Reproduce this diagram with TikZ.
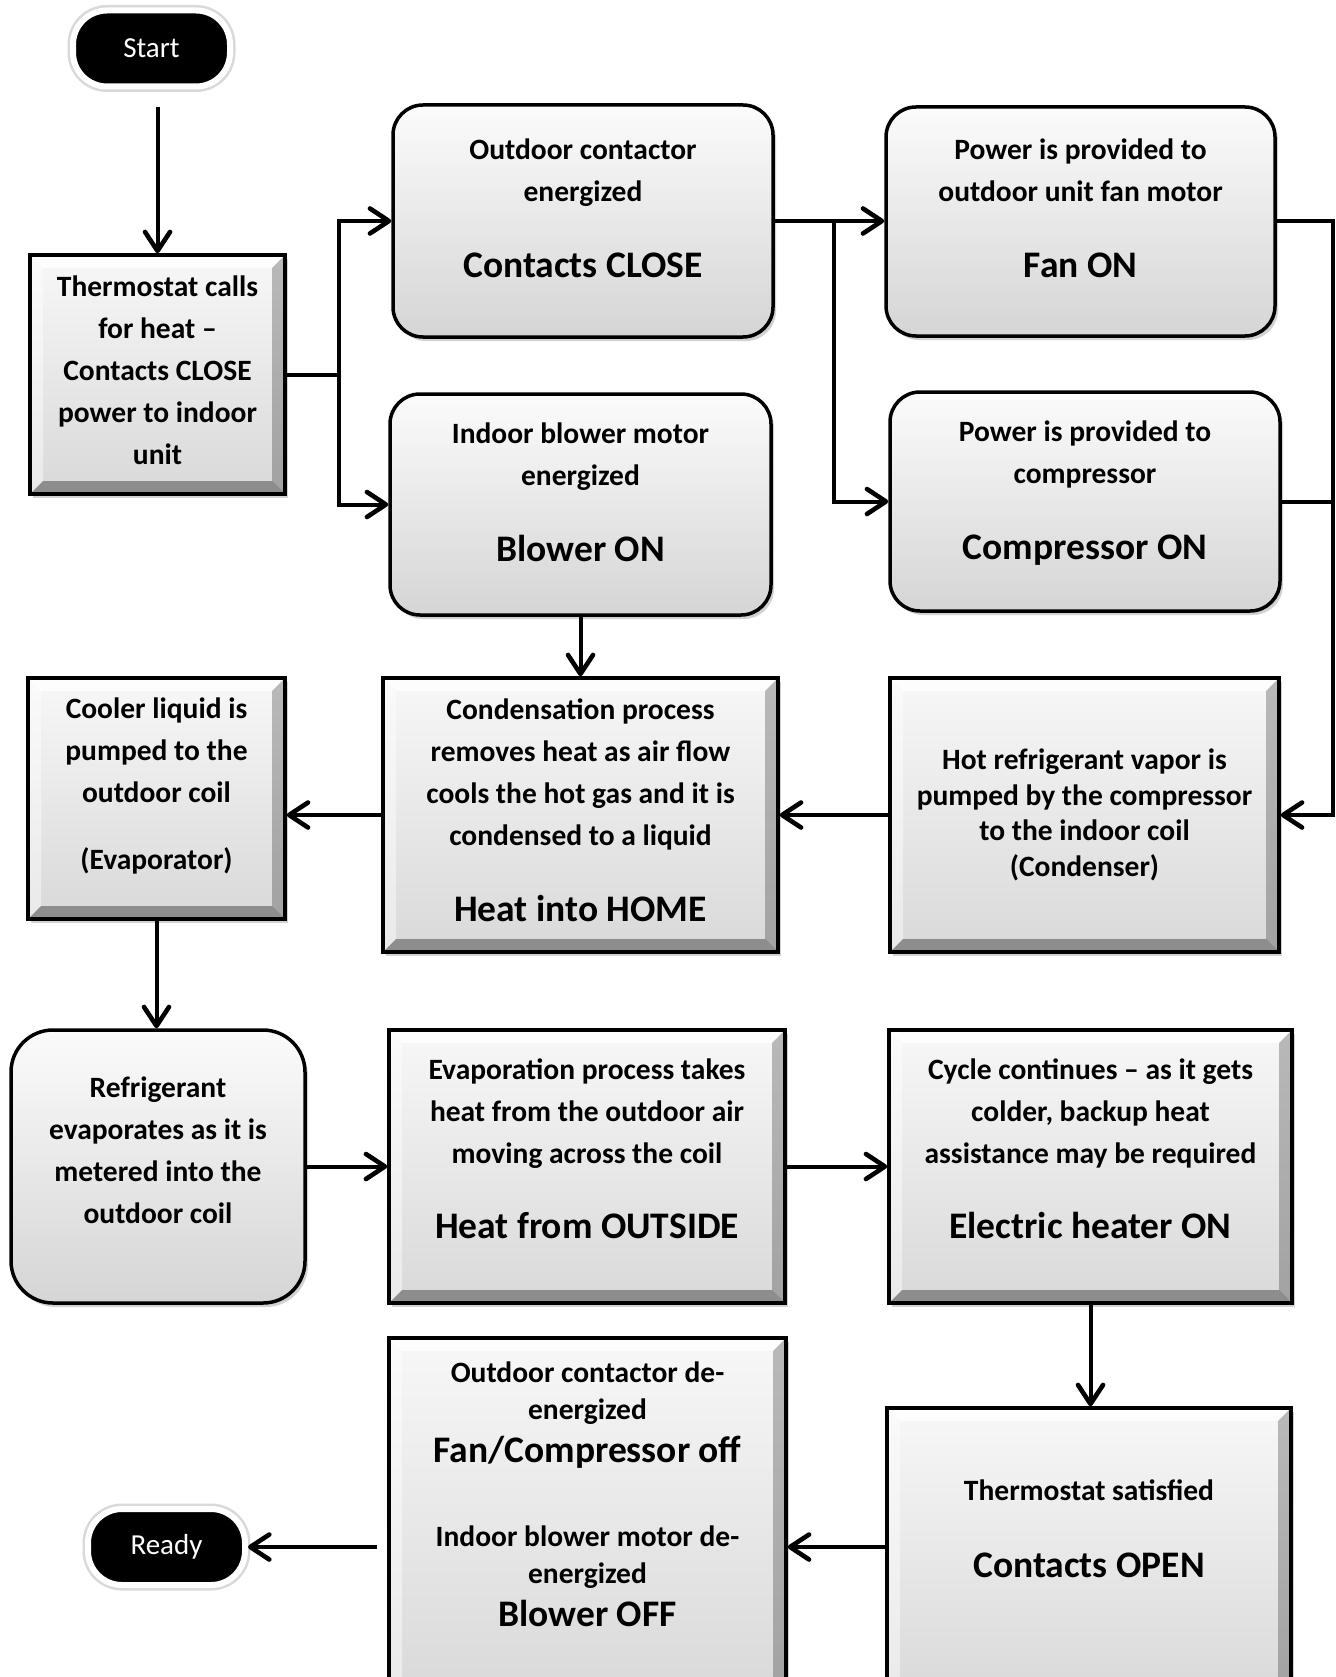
\documentclass[tikz,border=0pt]{standalone}
\usepackage{fontspec}
\setmainfont{Carlito}
\usetikzlibrary{arrows.meta,shadows}

\newcommand\bigtext[1]{{\fontsize{37.5}{42}\selectfont #1}}

\tikzset{
  >={Straight Barb[length=19pt,width=25pt,round,line width=4.6pt]},
  arrow/.style={->, line width=4pt},
  link/.style={line width=4pt},
  bevel/.style={path picture={
    \path (path picture bounding box.north west) coordinate (bnw)
          (path picture bounding box.north east) coordinate (bne)
          (path picture bounding box.south west) coordinate (bsw)
          (path picture bounding box.south east) coordinate (bse);
    \fill[white,opacity=.8] (bnw) -- (bne) -- ([shift={(-13pt,-13pt)}]bne) -- ([shift={(13pt,-13pt)}]bnw) -- cycle;
    \fill[white,opacity=.45] (bnw) -- (bsw) -- ([shift={(13pt,13pt)}]bsw) -- ([shift={(13pt,-13pt)}]bnw) -- cycle;
    \fill[black,opacity=.25] (bne) -- (bse) -- ([shift={(-13pt,13pt)}]bse) -- ([shift={(-13pt,-13pt)}]bne) -- cycle;
    \fill[black,opacity=.35] (bsw) -- (bse) -- ([shift={(-13pt,13pt)}]bse) -- ([shift={(13pt,13pt)}]bsw) -- cycle;
  }},
  flat/.style={draw, line width=3.5pt, top color=gray!6, bottom color=gray!30,
    align=center, font=\bfseries\fontsize{29.5}{42}\selectfont, bevel,
    drop shadow={shadow xshift=3pt, shadow yshift=-4pt, opacity=.35}},
  soft/.style={draw, line width=3.5pt, rounded corners=30pt, top color=gray!3, bottom color=gray!33,
    align=center, font=\bfseries\fontsize{29.5}{42}\selectfont,
    drop shadow={shadow xshift=3pt, shadow yshift=-4pt, opacity=.35}},
  term/.style={fill=black, text=white, rounded corners=34pt, minimum width=157pt, minimum height=76pt,
    font=\fontsize{29}{35}\selectfont, preaction={draw=gray!30, line width=11pt},
    draw=white, line width=6pt}
}

\begin{document}
\begin{tikzpicture}[x=1pt,y=-1pt]
  \useasboundingbox (0,0) rectangle (1335,1677);
  \clip (0,0) rectangle (1335,1677);
  \fill[white] (0,0) rectangle (1335,1677);

  % start / end
  \node[term] (start) at (151.5,48.5) {Start};
  \node[term] (ready) at (166.5,1547) {Ready};

  % first column
  \node[flat, minimum width=255pt, minimum height=239pt, text depth=8pt] (thermo) at (157.5,374.5)
    {Thermostat calls\\for heat –\\Contacts CLOSE\\power to indoor\\unit};
  \node[flat, minimum width=257pt, minimum height=241pt, text depth=30pt] (cooler) at (156.5,798.5)
    {Cooler liquid is\\pumped to the\\outdoor coil\\[25pt](Evaporator)};
  \node[soft, rounded corners=42pt, minimum width=294pt, minimum height=273pt, text depth=32pt] (refr) at (158,1166.5)
    {Refrigerant\\evaporates as it is\\metered into the\\outdoor coil};

  % second column
  \node[soft, minimum width=380pt, minimum height=232pt, text depth=26pt] (outdoor) at (583,221)
    {Outdoor contactor\\energized\\[34pt]\bigtext{Contacts CLOSE}};
  \node[soft, minimum width=381pt, minimum height=221pt, text depth=24pt] (blower) at (580.5,504.5)
    {Indoor blower motor\\energized\\[34pt]\bigtext{Blower ON}};
  \node[flat, minimum width=395pt, minimum height=274pt, text depth=10pt] (cond) at (580.5,815)
    {Condensation process\\removes heat as air flow\\cools the hot gas and it is\\condensed to a liquid\\[34pt]\bigtext{Heat into HOME}};
  \node[flat, minimum width=396pt, minimum height=273pt, text depth=35pt] (evap) at (587,1166.5)
    {Evaporation process takes\\heat from the outdoor air\\moving across the coil\\[33pt]\bigtext{Heat from OUTSIDE}};
  \node[flat, minimum width=397pt, minimum height=362pt, text depth=50pt,
    font=\bfseries\fontsize{29.5}{37}\selectfont] (deen) at (587.5,1519)
    {Outdoor contactor de-\\energized\\[6pt]\bigtext{Fan/Compressor off}\\[47pt]Indoor blower motor de-\\energized\\[6pt]\bigtext{Blower OFF}};

  % third column
  \node[soft, minimum width=389pt, minimum height=229pt, text depth=27pt] (fan) at (1080.5,221.5)
    {Power is provided to\\outdoor unit fan motor\\[34pt]\bigtext{Fan ON}};
  \node[soft, minimum width=390pt, minimum height=219pt, text depth=22pt] (comp) at (1085,501.5)
    {Power is provided to\\compressor\\[34pt]\bigtext{Compressor ON}};
  \node[flat, minimum width=389pt, minimum height=274pt,
    font=\bfseries\fontsize{29.5}{35.7}\selectfont] (hot) at (1084.5,815)
    {Hot refrigerant vapor is\\pumped by the compressor\\to the indoor coil\\(Condenser)};
  \node[flat, minimum width=403pt, minimum height=273pt, text depth=35pt] (cycle) at (1090.5,1166.5)
    {Cycle continues – as it gets\\colder, backup heat\\assistance may be required\\[33pt]\bigtext{Electric heater ON}};
  \node[flat, minimum width=404pt, minimum height=292pt, text depth=50pt] (open) at (1089,1554)
    {Thermostat satisfied\\[35pt]\bigtext{Contacts OPEN}};

  % connectors
  \draw[arrow] ([yshift=-18pt]start.south -| thermo.north) -- (thermo.north);
  \draw[arrow] (thermo.east) -- ++(52,0) |- (outdoor.west);
  \draw[arrow] (thermo.east) -- ++(52,0) |- (blower.west);
  \draw[arrow] (outdoor.east) -- (outdoor.east -| fan.west);
  \draw[arrow] (outdoor.east) -- ++(59,0) |- (comp.west);
  \draw[arrow] (fan.east) -- ++(56,0) |- (hot.east);
  \draw[link] (comp.east) -- ++(51,0);
  \draw[arrow] (blower.south) -- (blower.south |- cond.north);
  \draw[arrow] (hot.west) -- (cond.east);
  \draw[arrow] (cond.west) -- (cond.west -| cooler.east);
  \draw[arrow] (cooler.south) -- (cooler.south |- refr.north);
  \draw[arrow] (refr.east) -- (evap.west);
  \draw[arrow] (evap.east) -- (cycle.west);
  \draw[arrow] (cycle.south) -- (cycle.south |- open.north);
  \draw[arrow] (open.west |- ready.east) -- (deen.east |- ready.east);
  \draw[arrow, shorten <=10pt] (deen.west |- ready.east) -- (ready.east);
\end{tikzpicture}
\end{document}
